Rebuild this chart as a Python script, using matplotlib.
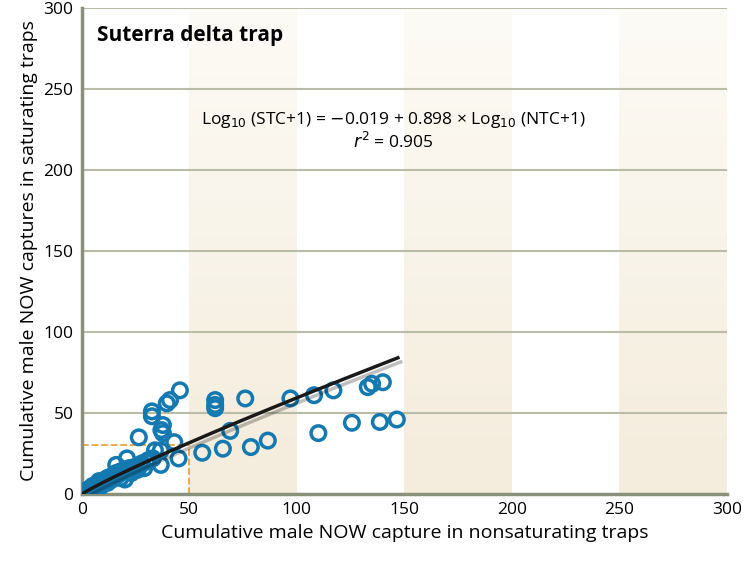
import numpy as np
import matplotlib
matplotlib.use("Agg")
import matplotlib.pyplot as plt
import matplotlib.patheffects as pe

plt.rcParams['font.family'] = ['Open Sans', 'DejaVu Sans']

ntc = [45.6,41,39.5,32.6,32.6,37.7,37,37.7,26.5,43,34,36.7,45,36.7,21,16,20,
       62,62,62,76,97,108,117,133,135,140,146.5,138.6,125.6,110,86.5,78.6,69,65.6,56,
       0,0.5,1,1,2,2,3,3,4,5,5,6,7,8,8,9,10,11,12,13,14,15,16,17,18,19,20,22,24,25,27,28,30,31,33,
       1,2,3,4,6,9,12,14,18,23,26,29]
stc = [64,58,56,51,48,42.6,39.5,37.6,35,32,27,27,22,18,22,18,9,
       58,55,53,59,59,61,64,66,68,69,46,44.5,44,37.6,33,29,39,28,25.5,
       0,0.5,1,0,1,2,2,3,3,4,5,5,6,6,8,7,8,9,10,10,11,12,13,12,14,14,15,16,15,17,18,19,20,21,22,
       0,1,1,2,3,5,7,9,10,13,15,16]

b0, b1 = -0.019, 0.898
xfit = np.linspace(0, 147, 200)
yfit = 10**(b0 + b1*np.log10(xfit+1)) - 1

fig = plt.figure(figsize=(7.44, 5.64), dpi=100)
ax = fig.add_axes([0.110, 0.124, 0.867, 0.862])
ax.set_xlim(0, 300); ax.set_ylim(0, 300)
for a in (50, 150, 250):
    grad = np.linspace(0, 1, 100).reshape(-1, 1)
    ax.imshow(grad, extent=(a, a+50, 0, 300), origin='upper', aspect='auto',
              cmap=matplotlib.colors.LinearSegmentedColormap.from_list('b', ['#fdfbf6', '#f4ecdc']),
              zorder=0)
ax.set_xlim(0, 300); ax.set_ylim(0, 300)
for y in range(50, 301, 50):
    ax.axhline(y, color='#b9bca6', lw=1.5, zorder=1)
ax.plot([0, 50], [30, 30], ls='--', color='#f0a040', lw=1.3, zorder=2)
ax.plot([50, 50], [0, 30], ls='--', color='#f0a040', lw=1.3, zorder=2)
ax.scatter(ntc, stc, s=110, facecolors='none', edgecolors='#1479b0', linewidths=2.5, zorder=3)
ax.plot(xfit, yfit, color='#1a1a1a', lw=2.5, zorder=4,
        path_effects=[pe.SimpleLineShadow(offset=(2, -3), alpha=0.25), pe.Normal()])
for s in ('top', 'right'):
    ax.spines[s].set_visible(False)
for s in ('left', 'bottom'):
    ax.spines[s].set_color('#8a917a'); ax.spines[s].set_linewidth(2.5)
ax.tick_params(length=0, labelsize=12.5, pad=6)
ax.set_xticks(range(0, 301, 50)); ax.set_yticks(range(0, 301, 50))
ax.set_xlabel('Cumulative male NOW capture in nonsaturating traps', fontsize=14)
ax.set_ylabel('Cumulative male NOW captures in saturating traps', fontsize=14)
ax.text(7, 283, 'Suterra delta trap', fontsize=15, fontweight='bold', va='center')
ax.text(145, 231, r'Log$_{10}$ (STC+1) = $-$0.019 + 0.898 × Log$_{10}$ (NTC+1)',
        fontsize=12.5, ha='center', va='center')
ax.text(145, 217, r'$r^2$ = 0.905', fontsize=12.5, ha='center', va='center')
fig.savefig('out.png', dpi=100)
